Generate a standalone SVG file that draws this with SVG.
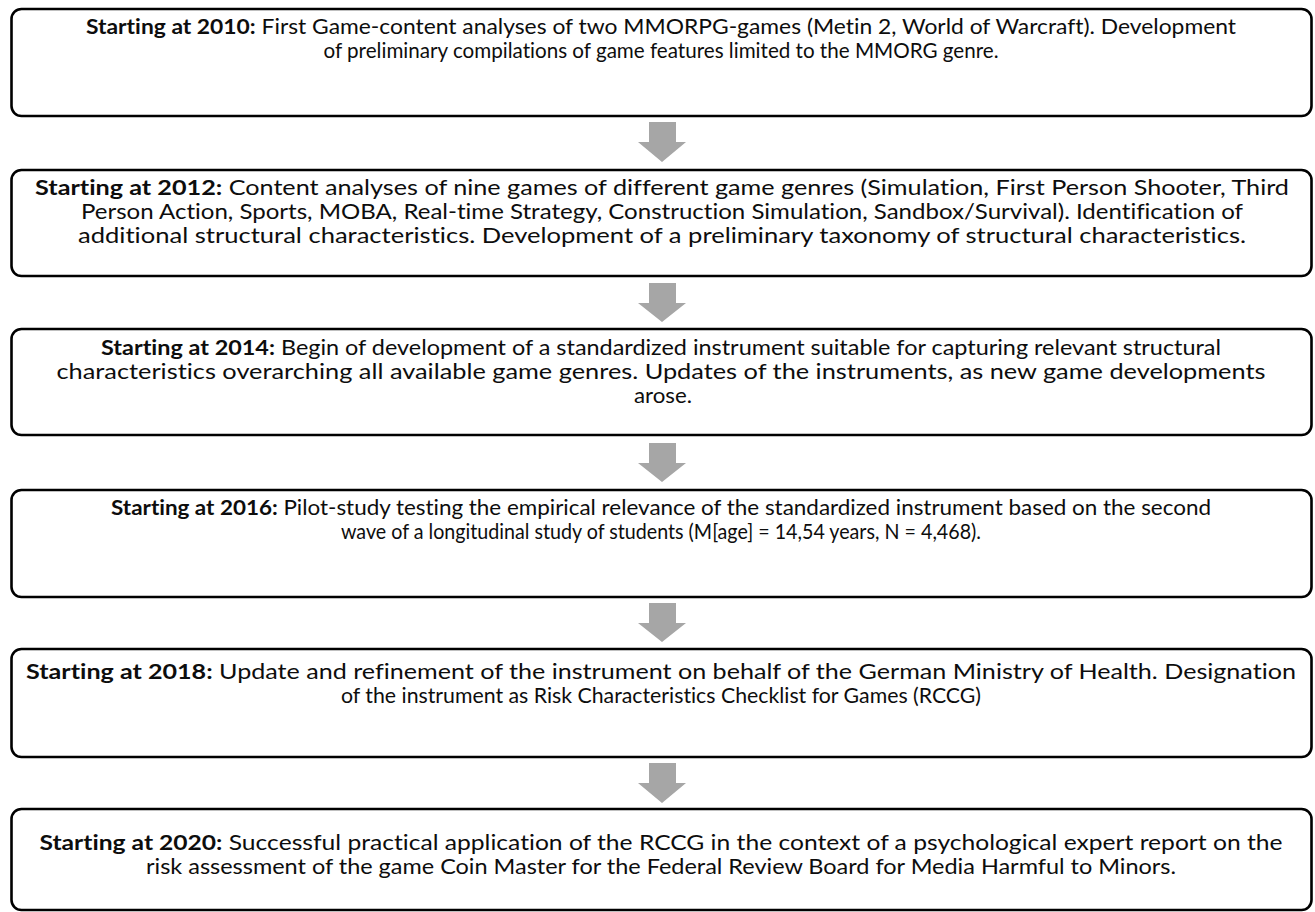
<svg xmlns="http://www.w3.org/2000/svg" width="1315" height="912" viewBox="0 0 1315 912">
<style>
.box{fill:#ffffff;stroke:#000000;stroke-width:2.6}
.t{font-family:Lato,"Liberation Sans",Arial,sans-serif;font-size:21px;fill:#0d0d0d;text-anchor:middle;font-variant-ligatures:none}
.b{font-weight:bold}
.arr{fill:#a6a6a6}
</style>
<rect width="1315" height="912" fill="#ffffff"/>
<g id="connectors">
<path class="arr" d="M649,122 H676 V142 H686 L662,162 L638,142 H649 Z"/>
<path class="arr" d="M649,283 H676 V303 H686 L662,322 L638,303 H649 Z"/>
<path class="arr" d="M649,443 H676 V463 H686 L662,482 L638,463 H649 Z"/>
<path class="arr" d="M649,603 H676 V623 H686 L662,642 L638,623 H649 Z"/>
<path class="arr" d="M649,763 H676 V783 H686 L662,803 L638,783 H649 Z"/>
</g>
<g id="node2010">
<rect class="box" x="11.5" y="9" width="1300" height="107" rx="10"/>
<text class="t" x="661" y="34" textLength="1150" lengthAdjust="spacingAndGlyphs"><tspan class="b">Starting at 2010:</tspan> First Game-content analyses of two MMORPG-games (Metin 2, World of Warcraft). Development</text>
<text class="t" x="661" y="58" textLength="675" lengthAdjust="spacingAndGlyphs">of preliminary compilations of game features limited to the MMORG genre.</text>
</g>
<g id="node2012">
<rect class="box" x="11.5" y="170" width="1300" height="106" rx="10"/>
<text class="t" x="662" y="195" textLength="1254" lengthAdjust="spacingAndGlyphs"><tspan class="b">Starting at 2012:</tspan> Content analyses of nine games of different game genres (Simulation, First Person Shooter, Third</text>
<text class="t" x="662" y="219" textLength="1162" lengthAdjust="spacingAndGlyphs">Person Action, Sports, MOBA, Real-time Strategy, Construction Simulation, Sandbox/Survival). Identification of</text>
<text class="t" x="662" y="243" textLength="1168" lengthAdjust="spacingAndGlyphs">additional structural characteristics. Development of a preliminary taxonomy of structural characteristics.</text>
</g>
<g id="node2014">
<rect class="box" x="11.5" y="329" width="1300" height="106" rx="10"/>
<text class="t" x="661" y="355" textLength="1120" lengthAdjust="spacingAndGlyphs"><tspan class="b">Starting at 2014:</tspan> Begin of development of a standardized instrument suitable for capturing relevant structural</text>
<text class="t" x="661" y="379" textLength="1209" lengthAdjust="spacingAndGlyphs">characteristics overarching all available game genres. Updates of the instruments, as new game developments</text>
<text class="t" x="663" y="403" textLength="58" lengthAdjust="spacingAndGlyphs">arose.</text>
</g>
<g id="node2016">
<rect class="box" x="11.5" y="490" width="1300" height="107" rx="10"/>
<text class="t" x="661" y="515" textLength="1100" lengthAdjust="spacingAndGlyphs"><tspan class="b">Starting at 2016:</tspan> Pilot-study testing the empirical relevance of the standardized instrument based on the second</text>
<text class="t" x="661" y="539" textLength="640" lengthAdjust="spacingAndGlyphs">wave of a longitudinal study of students (M[age] = 14,54 years, N = 4,468).</text>
</g>
<g id="node2018">
<rect class="box" x="11.5" y="649" width="1300" height="108" rx="10"/>
<text class="t" x="661" y="679" textLength="1270" lengthAdjust="spacingAndGlyphs"><tspan class="b">Starting at 2018:</tspan> Update and refinement of the instrument on behalf of the German Ministry of Health. Designation</text>
<text class="t" x="661" y="703" textLength="640" lengthAdjust="spacingAndGlyphs">of the instrument as Risk Characteristics Checklist for Games (RCCG)</text>
</g>
<g id="node2020">
<rect class="box" x="11.5" y="809" width="1300" height="101" rx="10"/>
<text class="t" x="661" y="850" textLength="1243" lengthAdjust="spacingAndGlyphs"><tspan class="b">Starting at 2020:</tspan> Successful practical application of the RCCG in the context of a psychological expert report on the</text>
<text class="t" x="661" y="874" textLength="1030" lengthAdjust="spacingAndGlyphs">risk assessment of the game Coin Master for the Federal Review Board for Media Harmful to Minors.</text>
</g>
</svg>
